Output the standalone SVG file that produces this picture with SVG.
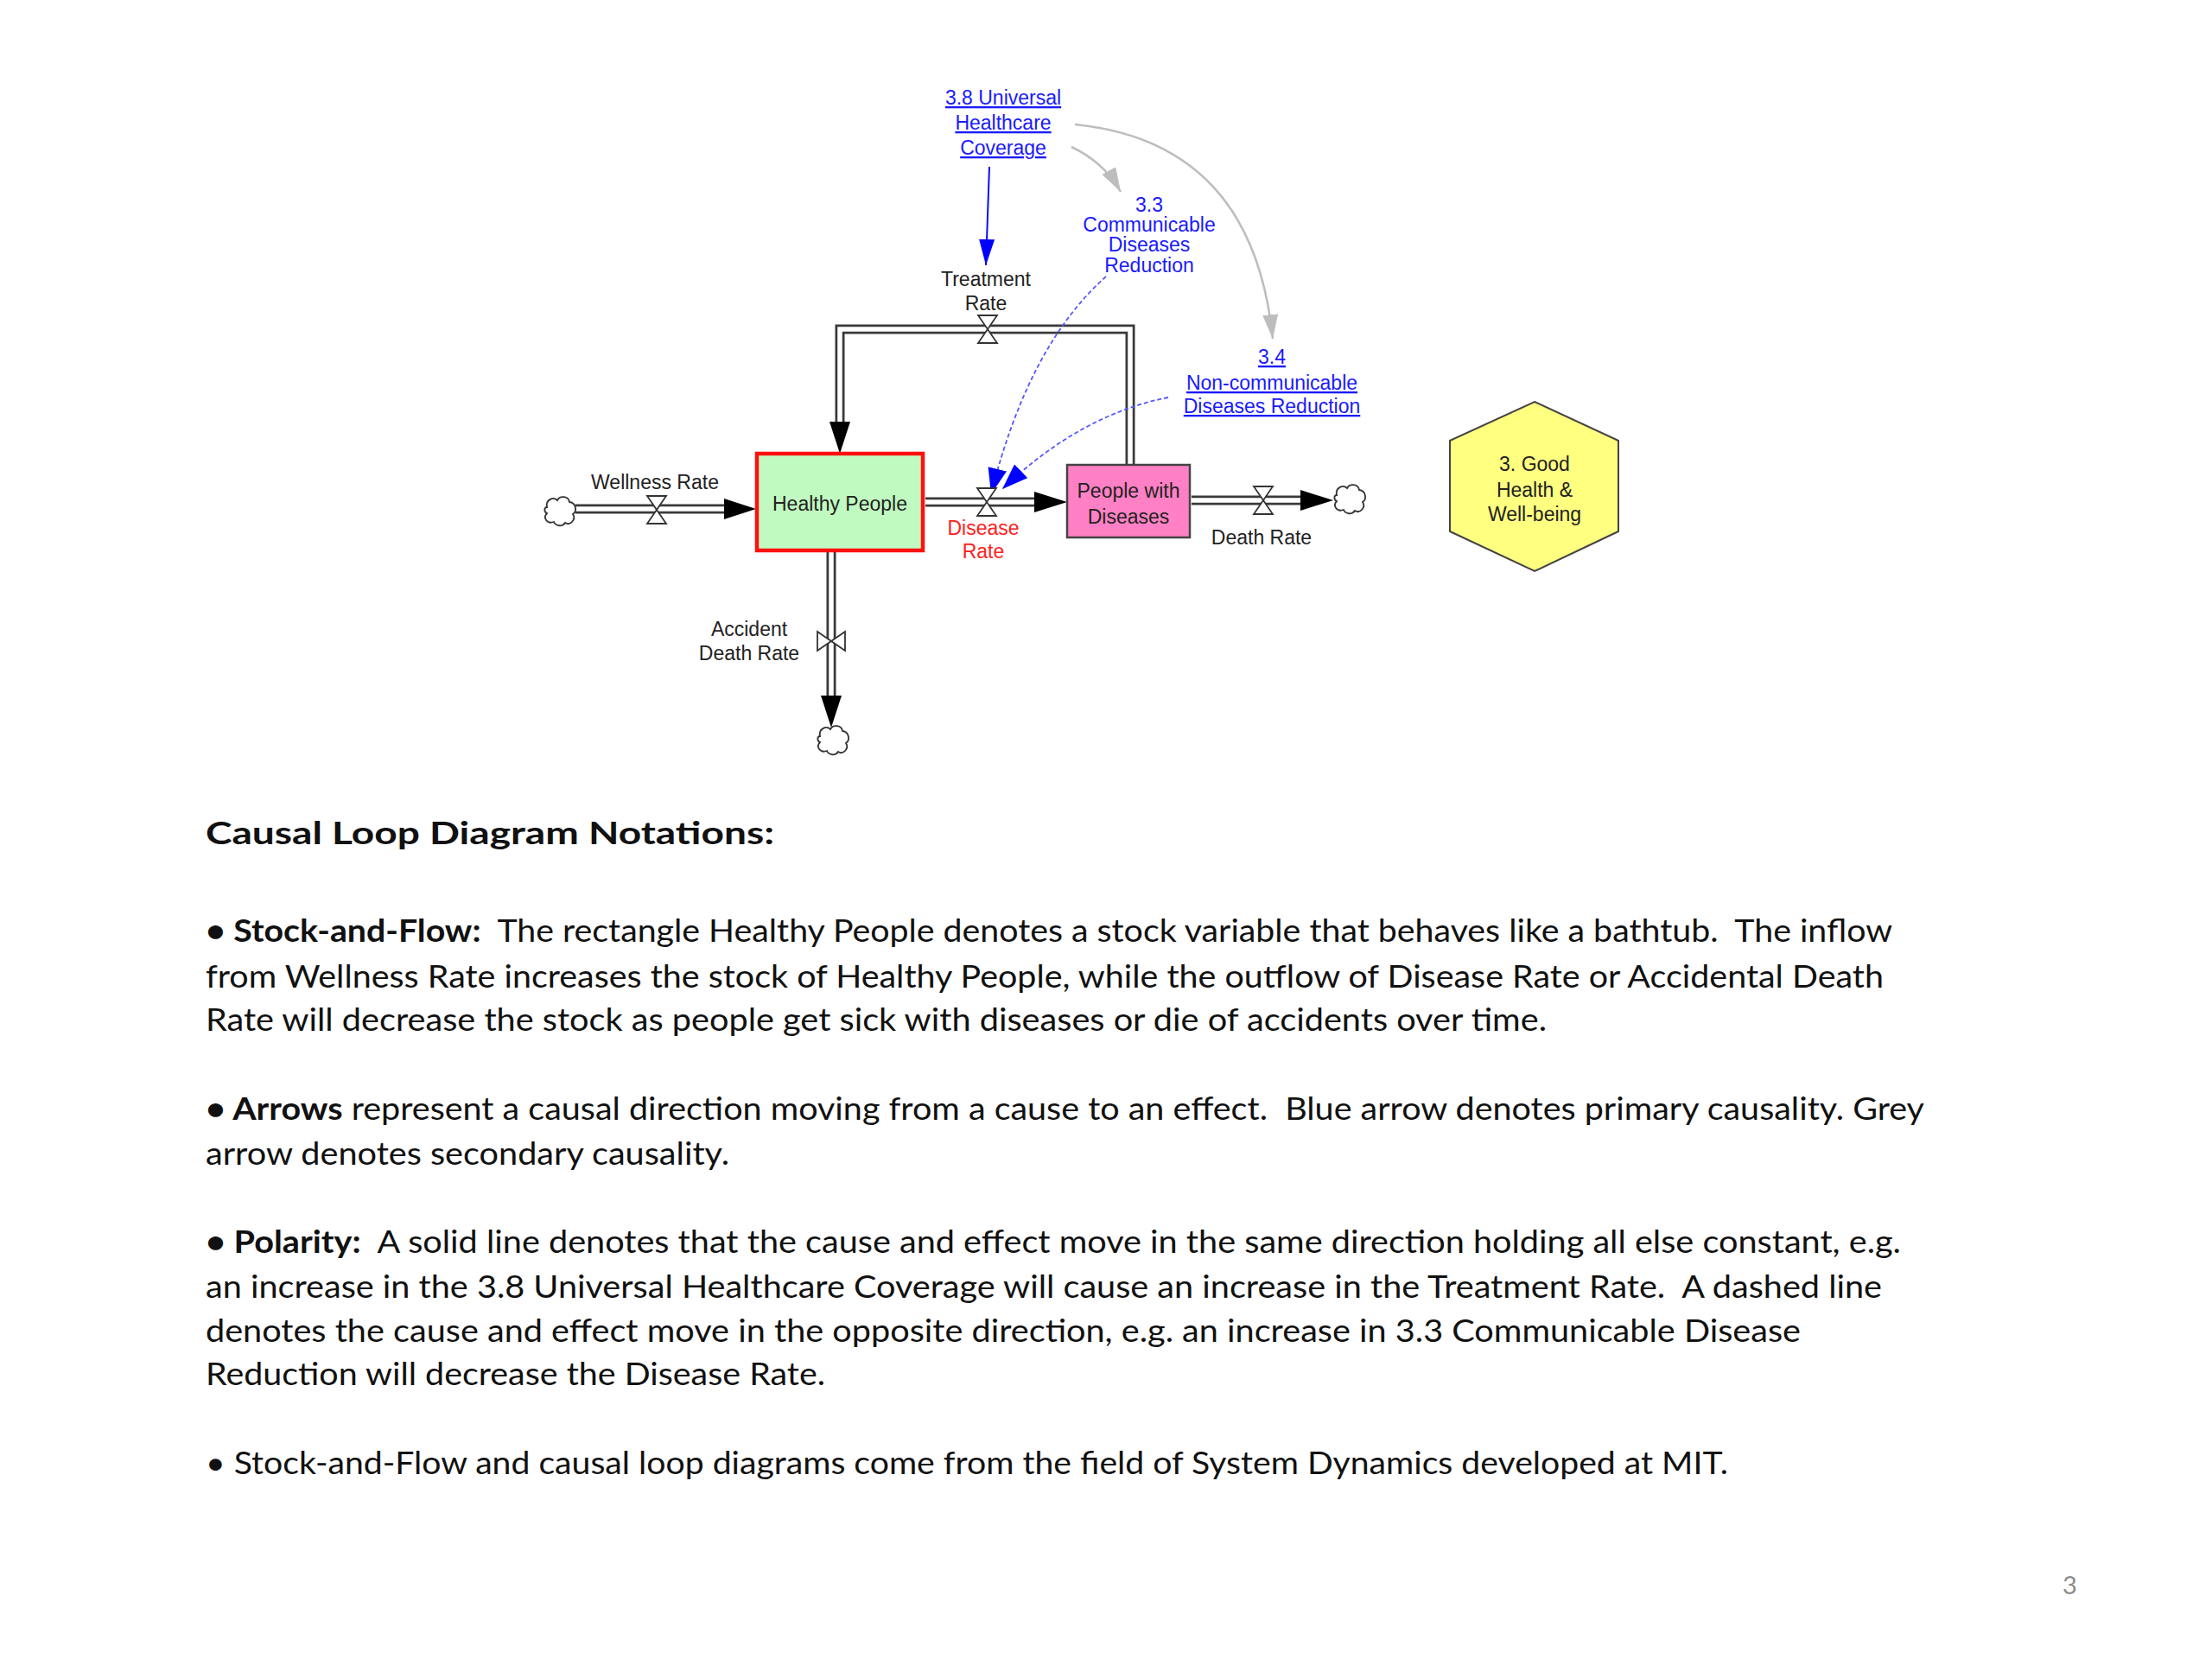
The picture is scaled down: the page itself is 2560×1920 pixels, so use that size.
<svg xmlns="http://www.w3.org/2000/svg" xmlns:xlink="http://www.w3.org/1999/xlink" width="2560" height="1920" viewBox="0 0 2560 1920">
<style>
.lbl{font-family:"Liberation Sans",Arial,sans-serif;font-size:23px;fill:#222;text-anchor:middle}
.blue{fill:#1a1aff}
.link{fill:#1a1aff;text-decoration:underline}
.red{fill:#ff2020}
.pipeo{fill:none;stroke:#3a3a3a;stroke-width:11;stroke-linejoin:miter}
.pipei{fill:none;stroke:#ffffff;stroke-width:5.5;stroke-linejoin:miter}
.head{fill:#000}
.grey{fill:none;stroke:#bdbdbd;stroke-width:2.5}
.bluel{fill:none;stroke:#0a0aff;stroke-width:2}
.blued{fill:none;stroke:#5858ff;stroke-width:1.8;stroke-dasharray:5 3}
.body{font-family:Lato,"Open Sans",sans-serif;font-size:36px;fill:#111}
.b{font-weight:bold}
</style>
<defs>
<marker id="mGrey" markerUnits="userSpaceOnUse" markerWidth="30" markerHeight="20" refX="28" refY="9" orient="auto"><path d="M0,0 L28,9 L0,18 z" fill="#bdbdbd"/></marker>
<marker id="mBlue" markerUnits="userSpaceOnUse" markerWidth="32" markerHeight="20" refX="30" refY="9" orient="auto"><path d="M0,0 L30,9 L0,18 z" fill="#0000ff"/></marker>
<marker id="mBlueD" markerUnits="userSpaceOnUse" markerWidth="32" markerHeight="24" refX="30" refY="11" orient="auto"><path d="M0,0 L30,11 L0,22 z" fill="#0000ff"/></marker>
<g id="valve"><path d="M-11,-16 L11,-16 L-11,16 L11,16 Z" fill="#fff" stroke="#333" stroke-width="1.8" stroke-linejoin="miter"/></g>
<g id="cloud"><path d="M-15,-5 C-17,-13 -8,-18 -3,-13 C0,-19 10,-18 11,-11 C19,-10 20,0 15,3 C19,9 12,17 6,13 C3,18 -5,17 -7,12 C-15,15 -20,7 -15,2 C-19,0 -18,-5 -15,-5 Z" fill="#fff" stroke="#333" stroke-width="1.8"/></g>
</defs>
<rect width="2560" height="1920" fill="#fff"/>

<g id="connectors">
  <g id="pipe-wellness"><path class="pipeo" d="M666,589 H840"/><path class="pipei" d="M666,589 H840"/><polygon class="head" points="838,577 875,589 838,601"/></g>
  <g id="pipe-disease"><path class="pipeo" d="M1071,581 H1199"/><path class="pipei" d="M1071,581 H1199"/><polygon class="head" points="1197,569 1235,581 1197,593"/></g>
  <g id="pipe-death"><path class="pipeo" d="M1379,579 H1507"/><path class="pipei" d="M1379,579 H1507"/><polygon class="head" points="1505,567 1543,579 1505,591"/></g>
  <g id="pipe-accident"><path class="pipeo" d="M962,639 V807"/><path class="pipei" d="M962,639 V807"/><polygon class="head" points="950,805 962,842 974,805"/></g>
  <g id="pipe-treatment"><path class="pipeo" d="M1308,537 V381 H972 V490"/><path class="pipei" d="M1308,538 V381 H972 V490"/><polygon class="head" points="960,488 972,525 984,488"/></g>
  <path class="bluel" d="M1145,193 L1141,307" marker-end="url(#mBlue)"/>
  <path class="grey" d="M1240,170 Q1278,188 1297,222" marker-end="url(#mGrey)"/>
  <path class="grey" d="M1244,144 Q1450,165 1473,392" marker-end="url(#mGrey)"/>
  <path class="blued" d="M1280,320 Q1190,400 1147,572" marker-end="url(#mBlueD)"/>
  <path class="blued" d="M1352,460 Q1250,480 1160,566" marker-end="url(#mBlueD)"/>
</g>

<g id="cloud-wellness"><use xlink:href="#cloud" x="648" y="592"/></g>
<g id="cloud-death"><use xlink:href="#cloud" x="1562" y="578"/></g>
<g id="cloud-accident"><use xlink:href="#cloud" x="964" y="857"/></g>

<g id="wellness-rate"><use xlink:href="#valve" x="760" y="590"/><text class="lbl" x="758" y="566">Wellness Rate</text></g>
<g id="disease-rate"><use xlink:href="#valve" x="1142" y="581"/><text class="lbl red" x="1138" y="619">Disease</text><text class="lbl red" x="1138" y="646">Rate</text></g>
<g id="death-rate"><use xlink:href="#valve" x="1462" y="579"/><text class="lbl" x="1460" y="630">Death Rate</text></g>
<g id="treatment-rate"><use xlink:href="#valve" x="1143" y="381"/><text class="lbl" x="1141" y="331">Treatment</text><text class="lbl" x="1141" y="359">Rate</text></g>
<g id="accident-death-rate"><use xlink:href="#valve" transform="translate(962,742) rotate(90)"/><text class="lbl" x="867" y="736">Accident</text><text class="lbl" x="867" y="764">Death Rate</text></g>

<g id="healthy-people">
  <rect x="876" y="525" width="192" height="112" fill="#c0fac0" stroke="#ff1010" stroke-width="4.5"/>
  <text class="lbl" x="972" y="591">Healthy People</text>
</g>
<g id="people-with-diseases">
  <rect x="1235" y="538" width="142" height="84" fill="#ff80c4" stroke="#444" stroke-width="2.5"/>
  <text class="lbl" x="1306" y="576">People with</text>
  <text class="lbl" x="1306" y="606">Diseases</text>
</g>
<g id="uhc-3-8">
  <text class="lbl link" x="1161" y="121">3.8 Universal</text>
  <text class="lbl link" x="1161" y="150">Healthcare</text>
  <text class="lbl link" x="1161" y="179">Coverage</text>
</g>
<g id="cdr-3-3">
  <text class="lbl blue" x="1330" y="245">3.3</text>
  <text class="lbl blue" x="1330" y="268">Communicable</text>
  <text class="lbl blue" x="1330" y="291">Diseases</text>
  <text class="lbl blue" x="1330" y="315">Reduction</text>
</g>
<g id="ncdr-3-4">
  <text class="lbl link" x="1472" y="421">3.4</text>
  <text class="lbl link" x="1472" y="451">Non-communicable</text>
  <text class="lbl link" x="1472" y="478">Diseases Reduction</text>
</g>
<g id="goal-3">
  <polygon points="1776,465 1873,510 1873,615 1776,661 1678,615 1678,510" fill="#ffff80" stroke="#444" stroke-width="2"/>
  <text class="lbl" x="1776" y="545">3. Good</text>
  <text class="lbl" x="1776" y="575">Health &amp;</text>
  <text class="lbl" x="1776" y="603">Well-being</text>
</g>

<g id="notes">
  <text class="body b" x="238" y="977" font-size="43" textLength="658" lengthAdjust="spacingAndGlyphs">Causal Loop Diagram Notations:</text>
  <text class="body" x="238" y="1090" xml:space="preserve" textLength="1952" lengthAdjust="spacingAndGlyphs"><tspan class="b">• Stock-and-Flow:</tspan>  The rectangle Healthy People denotes a stock variable that behaves like a bathtub.  The inflow</text>
  <text class="body" x="238" y="1143" textLength="1942" lengthAdjust="spacingAndGlyphs">from Wellness Rate increases the stock of Healthy People, while the outflow of Disease Rate or Accidental Death</text>
  <text class="body" x="238" y="1193" textLength="1552" lengthAdjust="spacingAndGlyphs">Rate will decrease the stock as people get sick with diseases or die of accidents over time.</text>
  <text class="body" x="238" y="1296" xml:space="preserve" textLength="1989" lengthAdjust="spacingAndGlyphs"><tspan class="b">• Arrows</tspan> represent a causal direction moving from a cause to an effect.  Blue arrow denotes primary causality. Grey</text>
  <text class="body" x="238" y="1348" textLength="606" lengthAdjust="spacingAndGlyphs">arrow denotes secondary causality.</text>
  <text class="body" x="238" y="1450" xml:space="preserve" textLength="1962" lengthAdjust="spacingAndGlyphs"><tspan class="b">• Polarity:</tspan>  A solid line denotes that the cause and effect move in the same direction holding all else constant, e.g.</text>
  <text class="body" x="238" y="1502" xml:space="preserve" textLength="1940" lengthAdjust="spacingAndGlyphs">an increase in the 3.8 Universal Healthcare Coverage will cause an increase in the Treatment Rate.  A dashed line</text>
  <text class="body" x="238" y="1553" textLength="1846" lengthAdjust="spacingAndGlyphs">denotes the cause and effect move in the opposite direction, e.g. an increase in 3.3 Communicable Disease</text>
  <text class="body" x="238" y="1603" textLength="717" lengthAdjust="spacingAndGlyphs">Reduction will decrease the Disease Rate.</text>
  <text class="body" x="238" y="1706" textLength="1762" lengthAdjust="spacingAndGlyphs">• Stock-and-Flow and causal loop diagrams come from the field of System Dynamics developed at MIT.</text>
  <text x="2387" y="1845" font-family="Lato,'Open Sans',sans-serif" font-size="29" fill="#8c8c8c">3</text>
</g>
</svg>
